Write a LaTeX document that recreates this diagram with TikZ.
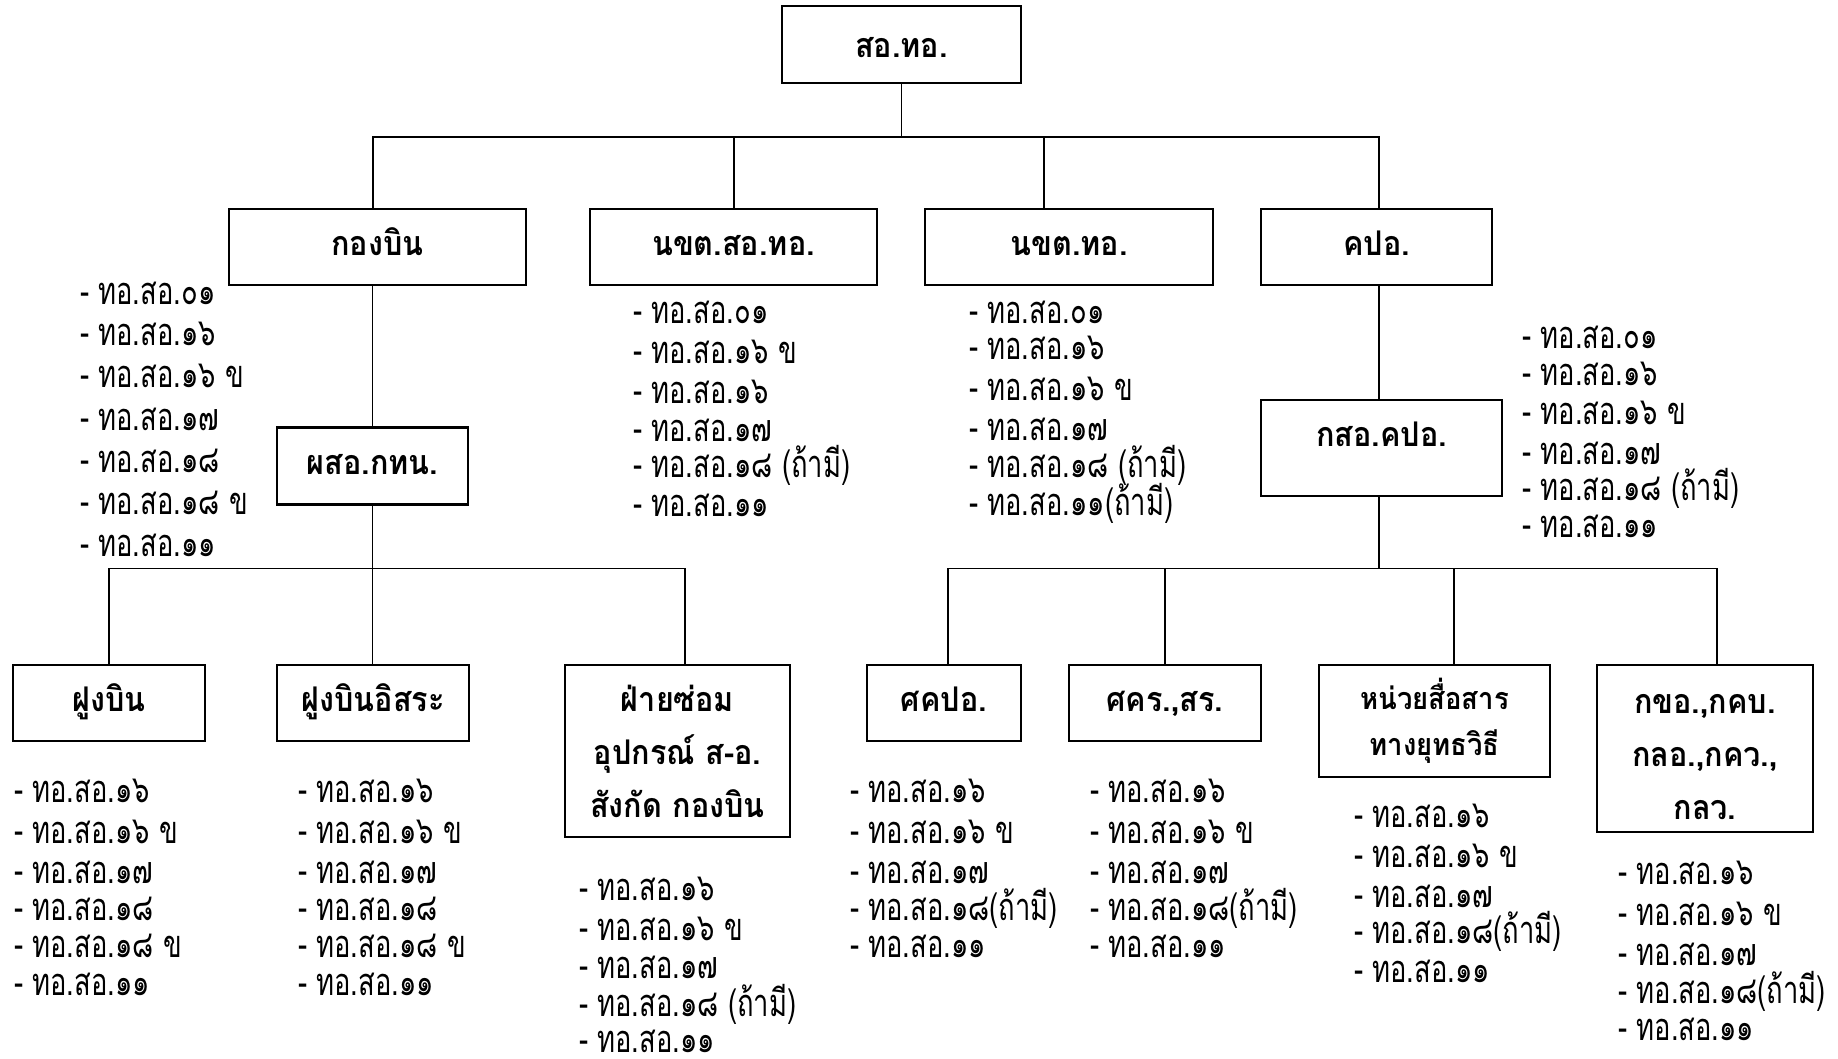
\documentclass[tikz,border=0pt]{standalone}
\usepackage{fontspec}
\newfontfamily\boxfont[Script=Thai,FakeStretch=0.9]{Loma}
\newfontfamily\listfont[Script=Thai,FakeStretch=0.72]{Loma}
\begin{document}
\begin{tikzpicture}[x=1pt,y=-1pt,
  box/.style={draw, line width=2.4pt, inner sep=0pt, align=center,
    font=\boxfont\bfseries\fontsize{34}{53}\selectfont},
  item/.style={anchor=base west, inner sep=0pt, text depth=0pt,
    font=\listfont\fontsize{38}{40}\selectfont},
  conn/.style={line width=1.6pt}]
\useasboundingbox[fill=white] (0,0) rectangle (1838,1058);

% boxes
\node[box, minimum width=239pt, minimum height=77pt, text height=26pt, text depth=0pt] (top) at (901.5,44.5) {สอ.ทอ.};
\node[box, minimum width=297pt, minimum height=76pt, text height=20pt, text depth=3.5pt] (kb)  at (377.5,247) {กองบิน};
\node[box, minimum width=287pt, minimum height=76pt, text height=20pt, text depth=3.5pt] (nks) at (733.5,247) {นขต.สอ.ทอ.};
\node[box, minimum width=288pt, minimum height=76pt, text height=20pt, text depth=3.5pt] (nkt) at (1069,247) {นขต.ทอ.};
\node[box, minimum width=231pt, minimum height=76pt, text height=20pt, text depth=3.5pt] (kpo) at (1376.5,247) {คปอ.};
\node[box, minimum width=191pt, minimum height=77pt, text height=17pt, text depth=0pt] (psk) at (372.5,466) {ผสอ.กทน.};
\node[box, minimum width=241pt, minimum height=96pt, text height=28pt, text depth=32pt] (kso) at (1381.5,448) {กสอ.คปอ.};
\node[box, minimum width=192pt, minimum height=76pt, text height=17pt, text depth=0pt] (fb)  at (109,703) {ฝูงบิน};
\node[box, minimum width=192pt, minimum height=76pt, text height=17pt, text depth=0pt] (fbi) at (373,703) {ฝูงบินอิสระ};
\node[box, minimum width=225pt, minimum height=172pt] (fs) at (677.5,751) {ฝ่ายซ่อม\\อุปกรณ์ ส-อ.\\สังกัด กองบิน};
\node[box, minimum width=154pt, minimum height=76pt, text height=17pt, text depth=0pt] (skp) at (944,703) {ศคปอ.};
\node[box, minimum width=192pt, minimum height=76pt, text height=17pt, text depth=0pt] (skr) at (1165,703) {ศคร.,สร.};
\node[box, minimum width=231pt, minimum height=112pt, font=\boxfont\bfseries\fontsize{30.5}{46}\selectfont] (nss) at (1434.5,721) {หน่วยสื่อสาร\\ทางยุทธวิธี};
\node[box, minimum width=216pt, minimum height=167pt, text height=142pt, text depth=0pt] (kko) at (1705,748.5) {กขอ.,กคบ.\\กลอ.,กคว.,\\กลว.};

% connectors
\coordinate (t0) at (373,137);
\coordinate (t1) at (734,137);
\coordinate (t2) at (1044,137);
\coordinate (t3) at (1379,137);
\draw[conn] (top.south) -- (top.south |- t0);
\draw[conn] (t0 |- kb.north) -- (t0) -- (t3) -- (t3 |- kpo.north);
\draw[conn] (t1) -- (t1 |- nks.north);
\draw[conn] (t2) -- (t2 |- nkt.north);

\coordinate (u0) at (109,568.5);
\coordinate (u2) at (685,568.5);
\draw[conn] (psk.north |- kb.south) -- (psk.north);
\draw[conn] (psk.south) -- (psk.south |- fbi.north);
\draw[conn] (fb.north) -- (u0) -- (u2) -- (u2 |- fs.north);

\coordinate (wm) at (1379,568.5);
\coordinate (w0) at (948,568.5);
\coordinate (w1) at (1165,568.5);
\coordinate (w2) at (1454,568.5);
\coordinate (w3) at (1717,568.5);
\draw[conn] (wm |- kpo.south) -- (wm |- kso.north);
\draw[conn] (wm |- kso.south) -- (wm);
\draw[conn] (w0 |- skp.north) -- (w0) -- (w3) -- (w3 |- kko.north);
\draw[conn] (w1) -- (w1 |- skr.north);
\draw[conn] (w2) -- (w2 |- nss.north);

% lists
\foreach \yy/\txt [count=\i] in {304/๐๑,345/๑๖,387/๑๖ ข,430/๑๗,472/๑๘,514/๑๘ ข,556/๑๑}
  \node[item] (la\i) at (80,\yy) {- ทอ.สอ.\txt};
\foreach \yy/\txt [count=\i] in {323/๐๑,363/๑๖ ข,403/๑๖,441/๑๗,477/๑๘ (ถ้ามี),516/๑๑}
  \node[item] (lb\i) at (633,\yy) {- ทอ.สอ.\txt};
\foreach \yy/\txt [count=\i] in {323/๐๑,359/๑๖,400/๑๖ ข,440/๑๗,477/๑๘ (ถ้ามี),515/๑๑(ถ้ามี)}
  \node[item] (lc\i) at (969,\yy) {- ทอ.สอ.\txt};
\foreach \yy/\txt [count=\i] in {348/๐๑,385/๑๖,424/๑๖ ข,464/๑๗,500/๑๘ (ถ้ามี),537/๑๑}
  \node[item] (ld\i) at (1522,\yy) {- ทอ.สอ.\txt};
\foreach \yy/\txt [count=\i] in {802/๑๖,843/๑๖ ข,883/๑๗,920/๑๘,957/๑๘ ข,995/๑๑}
  \node[item] (le\i) at (14,\yy) {- ทอ.สอ.\txt};
\foreach \yy/\txt [count=\i] in {802/๑๖,843/๑๖ ข,883/๑๗,920/๑๘,957/๑๘ ข,995/๑๑}
  \node[item] (lf\i) at (298,\yy) {- ทอ.สอ.\txt};
\foreach \yy/\txt [count=\i] in {900/๑๖,940/๑๖ ข,978/๑๗,1016/๑๘ (ถ้ามี),1052/๑๑}
  \node[item] (lg\i) at (579,\yy) {- ทอ.สอ.\txt};
\foreach \yy/\txt [count=\i] in {802/๑๖,843/๑๖ ข,883/๑๗,920/๑๘(ถ้ามี),957/๑๑}
  \node[item] (lh\i) at (850,\yy) {- ทอ.สอ.\txt};
\foreach \yy/\txt [count=\i] in {802/๑๖,843/๑๖ ข,883/๑๗,920/๑๘(ถ้ามี),957/๑๑}
  \node[item] (li\i) at (1090,\yy) {- ทอ.สอ.\txt};
\foreach \yy/\txt [count=\i] in {827/๑๖,867/๑๖ ข,907/๑๗,943/๑๘(ถ้ามี),982/๑๑}
  \node[item] (lj\i) at (1354,\yy) {- ทอ.สอ.\txt};
\foreach \yy/\txt [count=\i] in {884/๑๖,925/๑๖ ข,965/๑๗,1003/๑๘(ถ้ามี),1040/๑๑}
  \node[item] (lk\i) at (1618,\yy) {- ทอ.สอ.\txt};
\end{tikzpicture}
\end{document}
